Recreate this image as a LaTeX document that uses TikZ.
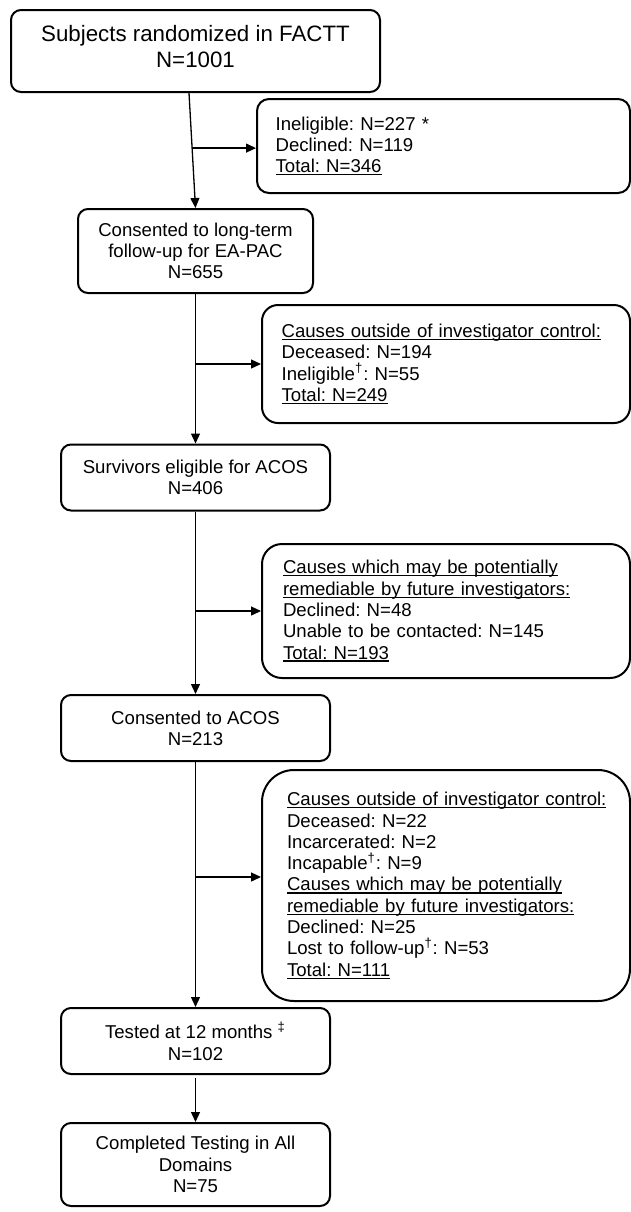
\documentclass[tikz,border=0pt]{standalone}
\usepackage{fontspec}
\setmainfont{Liberation Sans}
\usetikzlibrary{arrows.meta,calc}

% underline at fixed depth
\newsavebox\ulbox
\newcommand{\uln}[1]{\leavevmode\sbox\ulbox{#1}%
  \rlap{\rule[-1.3pt]{\wd\ulbox}{0.6pt}}\usebox\ulbox}

\tikzset{
  stage/.style={draw, line width=1pt, rounded corners=5pt, align=center,
    inner sep=0pt, minimum width=134.5pt, minimum height=33pt,
    font=\fontsize{9.3}{10.65}\selectfont\frenchspacing},
  excl/.style={draw, line width=1pt, align=left, inner ysep=0pt,
    font=\fontsize{9.3}{10.65}\selectfont\frenchspacing},
  flow/.style={line width=0.65pt, -{Triangle[length=5pt,width=4.5pt]}},
}

\begin{document}
\begin{tikzpicture}[x=0.5pt,y=-0.5pt]
  \useasboundingbox (0,0) rectangle (631,1212);

  % --- main stages ---
  \node[stage, minimum width=184.5pt, minimum height=41pt,
    font=\fontsize{11.15}{13.15}\selectfont] (rand) at (195.5,51)
    {Subjects randomized in FACTT\\N=1001\rule[-4.5pt]{0pt}{4.5pt}};
  \node[stage, minimum width=117.5pt, minimum height=42pt] (lt) at (195.5,251)
    {Consented to long-term\\follow-up for EA-PAC\\N=655};
  \node[stage] (surv) at (195.5,477.5) {Survivors eligible for ACOS\\N=406};
  \node[stage] (acos) at (195.5,728) {Consented to ACOS\\N=213};
  \node[stage] (tested) at (195.5,1041)
    {Tested at 12 months \textsuperscript{\textdaggerdbl}\\N=102};
  \node[stage, minimum height=41.5pt] (done) at (195.5,1164.5)
    {Completed Testing in All\\Domains\\N=75};

  % --- exclusions ---
  \node[excl, rounded corners=6pt, inner xsep=9.3pt, text width=167.9pt,
    minimum height=47pt] (inel) at (443.5,146)
    {Ineligible: N=227 *\\Declined: N=119\\\uln{Total: N=346}};
  \node[excl, rounded corners=8pt, inner xsep=9.8pt, text width=164.4pt,
    minimum height=59pt] (cause1) at (446,364)
    {\uln{Causes outside of investigator control:}\\
     Deceased: N=194\\
     Ineligible\textsuperscript{\textdagger}: N=55\\
     \uln{Total: N=249}};
  \node[excl, rounded corners=10pt, inner xsep=10.5pt, text width=163pt,
    minimum height=67pt] (cause2) at (446,611)
    {\uln{Causes which may be potentially}\\
     \uln{remediable by future investigators:}\\
     Declined: N=48\\
     Unable to be contacted: N=145\\
     \uln{Total: N=193}};
  \node[excl, rounded corners=16pt, inner xsep=12.5pt, text width=159pt,
    minimum height=115.5pt] (cause3) at (446,885.5)
    {\uln{Causes outside of investigator control:}\\
     Deceased: N=22\\
     Incarcerated: N=2\\
     Incapable\textsuperscript{\textdagger}: N=9\\
     \uln{Causes which may be potentially}\\
     \uln{remediable by future investigators:}\\
     Declined: N=25\\
     Lost to follow-up\textsuperscript{\textdagger}: N=53\\
     \uln{Total: N=111}};

  % --- spine ---
  \draw[flow] ([xshift=-3.25pt]rand.south) -- (lt.north);
  \draw[flow] (lt.south) -- (surv.north);
  \draw[flow] (surv.south) -- (acos.north);
  \draw[flow] (acos.south) -- (tested.north);
  \draw[flow] ([yshift=-1.5pt]tested.south) -- (done.north);

  % --- branches ---
  \coordinate (b1) at ($([xshift=-3.25pt]rand.south)!0.479!(lt.north)$);
  \draw[flow] (b1) -- (b1 -| inel.west);
  \draw[flow] (lt.south |- cause1.west) -- (cause1.west);
  \draw[flow] (surv.south |- cause2.west) -- (cause2.west);
  \coordinate (b4) at (195.5,877);
  \draw[flow] (b4) -- (b4 -| cause3.west);

\end{tikzpicture}
\end{document}
